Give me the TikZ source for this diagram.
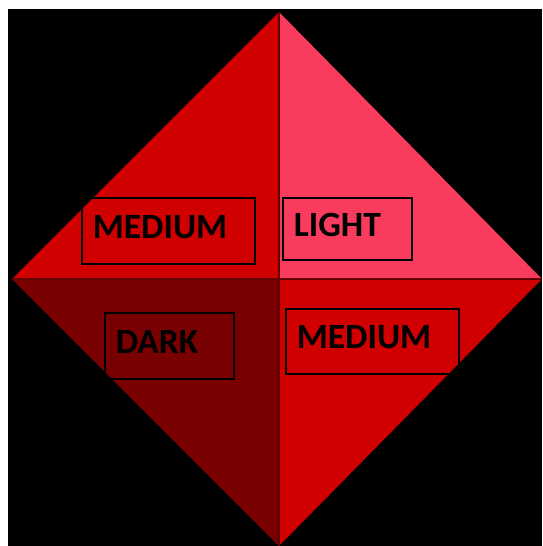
\documentclass[tikz,border=0pt]{standalone}
\usepackage{fontspec}
\setmainfont{Carlito}
\usepackage{xcolor}
\definecolor{medred}{RGB}{208,0,0}
\definecolor{lightred}{RGB}{249,60,94}
\definecolor{darkred}{RGB}{120,0,0}
\definecolor{seamred}{RGB}{96,0,0}

\begin{document}
\begin{tikzpicture}[
  x=1pt, y=-1pt,
  font=\fontsize{35.5}{38}\selectfont\bfseries,
  tag/.style={draw=black, line width=1.7pt, anchor=north west, align=left, inner xsep=11pt, text depth=8pt}
]
\useasboundingbox (0,0) rectangle (542,546);
\fill[black] (8,9) rectangle (542,546);
% diamond corners
\coordinate (top) at (279,12);
\coordinate (bot) at (279,546);
\coordinate (lft) at (12,279);
\coordinate (rgt) at (542,279);
\coordinate (ctr) at (279,279);
% four faces
\fill[medred] (top) -- (ctr) -- (lft) -- cycle;
\fill[lightred] (top) -- (ctr) -- (rgt) -- cycle;
\fill[darkred] (bot) -- (ctr) -- (lft) -- cycle;
\fill[medred] (bot) -- (ctr) -- (rgt) -- cycle;
\draw[seamred, line width=1.8pt] (top) -- (bot);
\draw[seamred, line width=1.8pt] (lft) -- (rgt);
% labels
\node[tag, text width=151pt, minimum height=66pt] (medtl) at (81,197) {MEDIUM};
\node[tag, text width=107pt, minimum height=62pt] (light) at (282,197) {LIGHT};
\node[tag, text width=107pt, minimum height=66pt] (dark) at (104,312) {DARK};
\node[tag, text width=151pt, minimum height=65pt] (medbr) at (285,308) {MEDIUM};
\end{tikzpicture}
\end{document}
